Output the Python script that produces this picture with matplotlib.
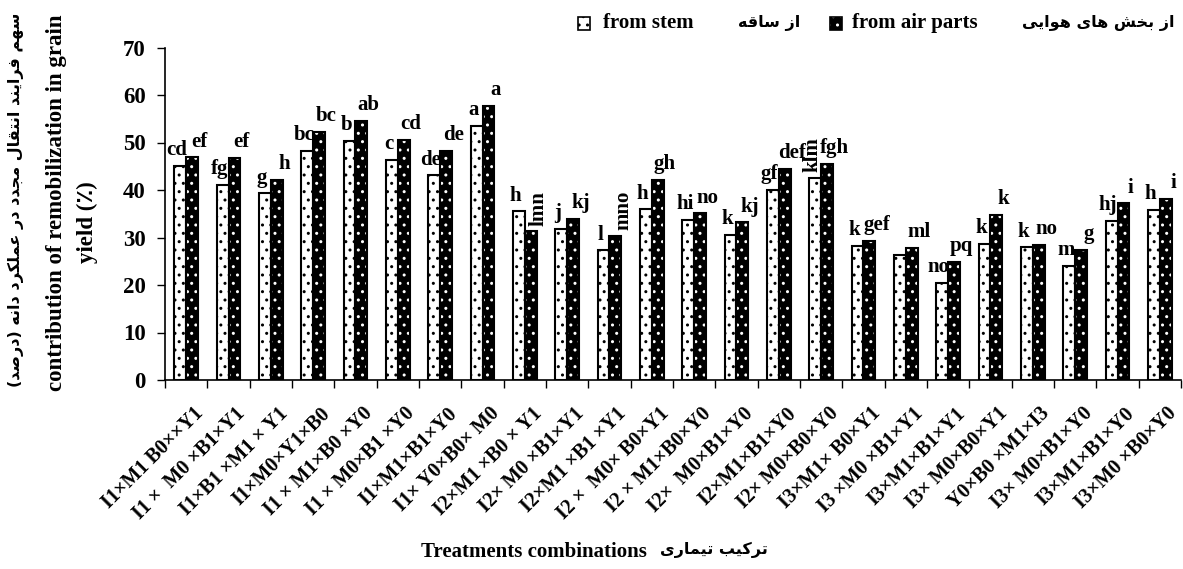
import numpy as np
import matplotlib
matplotlib.use("Agg")
import matplotlib.pyplot as plt
from matplotlib.patches import Rectangle
from matplotlib.transforms import ScaledTranslation

plt.rcParams['font.family'] = ['Liberation Serif', 'DejaVu Sans']
plt.rcParams['font.weight'] = 'bold'
plt.rcParams['hatch.linewidth'] = 1.0

# treatment combinations (x axis)
treatments = ["I1×M1 B0××Y1", "I1 ×  M0 ×B1×Y1", "I1×B1 ×M1 × Y1", "I1×M0×Y1×B0",
              "I1 × M1×B0 ×Y0", "I1 × M0×B1 ×Y0", "I1×M1×B1×Y0", "I1× Y0×B0× M0",
              "I2×M1 ×B0 × Y1", "I2× M0 ×B1×Y1", "I2×M1 ×B1 ×Y1", "I2 ×  M0× B0×Y1",
              "I2 × M1×B0×Y0", "I2×  M0×B1×Y0", "I2×M1×B1×Y0", "I2× M0×B0×Y0",
              "I3×M1× B0×Y1", "I3 ×M0 ×B1×Y1", "I3×M1×B1×Y1", "I3× M0×B0×Y1",
              "Y0×B0 ×M1×I3", "I3× M0×B1×Y0", "I3×M1×B1×Y0", "I3×M0 ×B0×Y0"]

# contribution of remobilization (%)
from_stem = [45.1, 41.1, 39.3, 48.2, 50.3, 46.4, 43.1, 53.5,
             35.5, 31.8, 27.3, 35.9, 33.7, 30.6, 40.1, 42.6,
             28.3, 26.4, 20.4, 28.7, 27.9, 24.1, 33.5, 35.8]
from_air = [46.9, 46.8, 42.1, 52.2, 54.6, 50.6, 48.2, 57.7,
            31.3, 33.9, 30.4, 42.2, 35.1, 33.2, 44.4, 45.5,
            29.3, 27.8, 24.8, 34.7, 28.5, 27.4, 37.2, 38.1]

# mean comparison letters
letters_stem = ["cd", "fg", "g", "bc", "b", "c", "de", "a",
                "h", "j", "l", "h", "hi", "k", "gf", "klm",
                "k", "", "no", "k", "k", "m", "hj", "h"]
letters_air = ["ef", "ef", "h", "bc", "ab", "cd", "de", "a",
               "lmn", "kj", "mno", "gh", "no", "kj", "def", "fgh",
               "gef", "ml", "pq", "k", "no", "g", "i", "i"]

# letters written vertically in the original
vertical = {("air", 8), ("air", 10), ("stem", 15)}

# --- minimal Persian shaping (presentation forms + visual order) ---
FORMS = {
    'ا': ('\uFE8D', '\uFE8E', None, None),
    'ب': ('\uFE8F', '\uFE90', '\uFE91', '\uFE92'),
    'ت': ('\uFE95', '\uFE96', '\uFE97', '\uFE98'),
    'ج': ('\uFE9D', '\uFE9E', '\uFE9F', '\uFEA0'),
    'خ': ('\uFEA5', '\uFEA6', '\uFEA7', '\uFEA8'),
    'د': ('\uFEA9', '\uFEAA', None, None),
    'ر': ('\uFEAD', '\uFEAE', None, None),
    'ز': ('\uFEAF', '\uFEB0', None, None),
    'س': ('\uFEB1', '\uFEB2', '\uFEB3', '\uFEB4'),
    'ش': ('\uFEB5', '\uFEB6', '\uFEB7', '\uFEB8'),
    'ص': ('\uFEB9', '\uFEBA', '\uFEBB', '\uFEBC'),
    'ع': ('\uFEC9', '\uFECA', '\uFECB', '\uFECC'),
    'ف': ('\uFED1', '\uFED2', '\uFED3', '\uFED4'),
    'ق': ('\uFED5', '\uFED6', '\uFED7', '\uFED8'),
    'ك': ('\uFED9', '\uFEDA', '\uFEDB', '\uFEDC'),
    'ک': ('\uFB8E', '\uFB8F', '\uFB90', '\uFB91'),
    'ل': ('\uFEDD', '\uFEDE', '\uFEDF', '\uFEE0'),
    'م': ('\uFEE1', '\uFEE2', '\uFEE3', '\uFEE4'),
    'ن': ('\uFEE5', '\uFEE6', '\uFEE7', '\uFEE8'),
    'ه': ('\uFEE9', '\uFEEA', '\uFEEB', '\uFEEC'),
    'و': ('\uFEED', '\uFEEE', None, None),
    'ي': ('\uFEF1', '\uFEF2', '\uFEF3', '\uFEF4'),
    'ی': ('\uFBFC', '\uFBFD', '\uFBFE', '\uFBFF'),
}


def fa(text):
    out = []
    for i, c in enumerate(text):
        if c not in FORMS:
            out.append(c)
            continue
        prev = text[i - 1] if i > 0 else ''
        nxt = text[i + 1] if i + 1 < len(text) else ''
        jp = prev in FORMS and FORMS[prev][2] is not None
        jn = nxt in FORMS and FORMS[c][2] is not None
        iso, fin, ini, med = FORMS[c]
        if jp and jn:
            out.append(med)
        elif jp:
            out.append(fin)
        elif jn:
            out.append(ini)
        else:
            out.append(iso)
    s = ''.join(reversed(out))
    return s.translate(str.maketrans('()', ')('))


FA = dict(family=['DejaVu Sans'], fontweight='bold')

fig = plt.figure(figsize=(11.83, 5.69), dpi=100)
W, H = 1183, 569
ax = fig.add_axes([165 / W, 1 - 380 / H, 1016 / W, 332.5 / H])

x = np.arange(len(treatments))
w = 0.283
ax.bar(x - w / 2, from_stem, w, facecolor='white', edgecolor='black',
       hatch='..', linewidth=1.5, zorder=2)
ax.bar(x + w / 2, from_air, w, facecolor='black', edgecolor='white',
       hatch='..', linewidth=0, zorder=2)
ax.bar(x + w / 2, from_air, w, facecolor='none', edgecolor='black',
       linewidth=1.5, zorder=3)

for i in x:
    for key, vals, labs, dx in (("stem", from_stem, letters_stem, -w / 2 - 0.08),
                                ("air", from_air, letters_air, w / 2 + 0.17)):
        if not labs[i]:
            continue
        if (key, i) in vertical:
            vx = i + w / 2 + 0.18 if key == "air" else i - w / 2 - 0.06
            ax.text(vx, vals[i] + 1.2, labs[i], rotation=90, ha='center', va='bottom',
                    fontsize=15, fontweight='bold')
        else:
            ax.text(i + dx, vals[i] + 1.2, labs[i], ha='center', va='bottom',
                    fontsize=15, fontweight='bold')

ax.set_xlim(-0.5, len(x) - 0.5)
ax.set_ylim(0, 70)
ax.set_yticks(np.arange(0, 71, 10))
ax.tick_params(axis='y', length=6, width=1, pad=8, labelsize=16.5)
for t in ax.get_yticklabels():
    t.set_fontweight('bold')

ax.set_xticks(x)
ax.set_xticklabels(treatments, rotation=45, ha='right', rotation_mode='anchor',
                   fontsize=14.5, fontweight='bold')
ax.set_xticks(np.arange(-0.5, len(x)), minor=True)
ax.tick_params(axis='x', which='major', length=0, pad=17)
ax.tick_params(axis='x', which='minor', length=6, width=1, direction='out')
shift = ScaledTranslation(7 / 100, 0, fig.dpi_scale_trans)
for t in ax.get_xticklabels():
    t.set_transform(t.get_transform() + shift)

for s in ('top', 'right'):
    ax.spines[s].set_visible(False)
for s in ('left', 'bottom'):
    ax.spines[s].set_linewidth(1.2)

# axis titles
fig.text(16 / W, 1 - 200 / H, fa("سهم فرایند انتقال مجدد در عملکرد دانه (درصد)"),
         rotation=90, ha='center', va='center', fontsize=11.5, **FA)
fig.text(57 / W, 1 - 203 / H, "contribution of remobilization in grain",
         rotation=90, ha='center', va='center', fontsize=16.5)
fig.text(87 / W, 1 - 222 / H, "yield (٪)", rotation=90, ha='center',
         va='center', fontsize=16.5)

fig.text(647 / W, 1 - 552 / H, "Treatments combinations", ha='right',
         va='center', fontsize=15)
fig.text(660 / W, 1 - 550 / H, fa("ترکیب تیماری"), ha='left', va='center',
         fontsize=11.5, **FA)

# legend
fig.add_artist(Rectangle((578 / W, 1 - 30 / H), 12 / W, 13 / H, transform=fig.transFigure,
                         facecolor='white', edgecolor='black', hatch='..', linewidth=1.2))
fig.add_artist(Rectangle((830 / W, 1 - 30 / H), 12 / W, 13 / H, transform=fig.transFigure,
                         facecolor='black', edgecolor='white', hatch='..', linewidth=0))
fig.add_artist(Rectangle((830 / W, 1 - 30 / H), 12 / W, 13 / H, transform=fig.transFigure,
                         facecolor='none', edgecolor='black', linewidth=1.2))
fig.text(603 / W, 1 - 23 / H, "from stem", ha='left', va='center', fontsize=15)
fig.text(852 / W, 1 - 23 / H, "from air parts", ha='left', va='center', fontsize=15)
fig.text(800 / W, 1 - 23 / H, fa("از ساقه"), ha='right', va='center', fontsize=11.5, **FA)
fig.text(1175 / W, 1 - 23 / H, fa("از بخش های هوایی"), ha='right', va='center',
         fontsize=11.5, **FA)

fig.savefig("out.png", dpi=100)
